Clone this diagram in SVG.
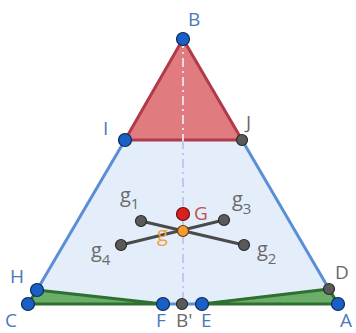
<svg xmlns="http://www.w3.org/2000/svg" width="356" height="333" viewBox="0 0 356 333">
<style>
.bp{fill:#1a5fc4;stroke:#0d2a5a;stroke-width:1.2}
.gp{fill:#5a5a5a;stroke:#2a2a2a;stroke-width:1.2}
.lb{font-family:"Open Sans","Liberation Sans",sans-serif;font-size:19px;fill:#4a7ab8}
.lg{font-family:"Open Sans","Liberation Sans",sans-serif;font-size:19px;fill:#6a6a6a}
.gl{font-family:"Open Sans","Liberation Sans",sans-serif;font-size:20px;fill:#6a6a6a}
.sub{font-size:15px}
</style>
<rect width="356" height="333" fill="#fff"/>
<g id="region">
<polygon points="125,140 242,140 329,289 202,304 163,304 37,290" fill="#e4eefa"/>
</g>
<g id="triangle-BIJ">
<polygon points="183,39 125,140 242,140" fill="#e07c80" stroke="#b03a4a" stroke-width="3" stroke-linejoin="round"/>
</g>
<g id="triangle-CHF">
<polygon points="28,304 37,290 163,304" fill="#6aae6a" stroke="#2e7030" stroke-width="3" stroke-linejoin="round"/>
</g>
<g id="triangle-ADE">
<polygon points="338,304 329,289 202,304" fill="#6aae6a" stroke="#2e7030" stroke-width="3" stroke-linejoin="round"/>
</g>
<g id="connectors">
<line x1="125" y1="140" x2="37" y2="290" stroke="#5a8fd6" stroke-width="3"/>
<line x1="242" y1="140" x2="329" y2="289" stroke="#5a8fd6" stroke-width="3"/>
<line x1="163" y1="304" x2="202" y2="304" stroke="#5a8fd6" stroke-width="3"/>
<line x1="183" y1="39" x2="183" y2="140" stroke="#f4d8e4" stroke-width="2" stroke-dasharray="9,4,2,4"/>
<line x1="183" y1="140" x2="183" y2="304" stroke="#c0c8f0" stroke-width="2" stroke-dasharray="9,4,2,4"/>
<line x1="141" y1="221" x2="244" y2="245" stroke="#4a4a4a" stroke-width="3"/>
<line x1="121" y1="245" x2="224" y2="220" stroke="#4a4a4a" stroke-width="3"/>
</g>
<g id="B"><circle class="bp" cx="183" cy="39" r="6.5"/><text class="lb" x="188" y="26">B</text></g>
<g id="I"><circle class="bp" cx="125" cy="140" r="6.5"/><text class="lb" x="103" y="135">I</text></g>
<g id="J"><circle class="gp" cx="242" cy="140" r="5.5"/><text class="lg" x="246" y="129">J</text></g>
<g id="H"><circle class="bp" cx="37" cy="290" r="6.5"/><text class="lb" x="10" y="283">H</text></g>
<g id="C"><circle class="bp" cx="28" cy="304" r="6.5"/><text class="lb" x="5" y="327">C</text></g>
<g id="F"><circle class="bp" cx="163" cy="304" r="6.5"/><text class="lb" x="156" y="327">F</text></g>
<g id="Bp"><circle class="gp" cx="182" cy="304" r="5.5"/><text class="lg" x="176" y="327">B'</text></g>
<g id="E"><circle class="bp" cx="202" cy="304" r="6.5"/><text class="lb" x="201" y="327">E</text></g>
<g id="D"><circle class="gp" cx="329" cy="289" r="5.5"/><text class="lg" x="335" y="279">D</text></g>
<g id="A"><circle class="bp" cx="338" cy="304" r="6.5"/><text class="lb" x="340" y="327">A</text></g>
<g id="g1"><circle class="gp" cx="141" cy="221" r="5.5"/><text class="gl" x="120" y="202">g<tspan class="sub" dy="7">1</tspan></text></g>
<g id="g3"><circle class="gp" cx="224" cy="220" r="5.5"/><text class="gl" x="232" y="206">g<tspan class="sub" dy="8">3</tspan></text></g>
<g id="g4"><circle class="gp" cx="121" cy="245" r="5.5"/><text class="gl" x="91" y="257">g<tspan class="sub" dy="8">4</tspan></text></g>
<g id="g2"><circle class="gp" cx="244" cy="245" r="5.5"/><text class="gl" x="257" y="256">g<tspan class="sub" dy="8">2</tspan></text></g>
<g id="G"><circle cx="183" cy="214" r="6.5" fill="#d92020" stroke="#6a1010" stroke-width="1.2"/><text x="194" y="220" font-family="Open Sans, Liberation Sans, sans-serif" font-size="19" fill="#c05050">G</text></g>
<g id="g"><circle cx="183" cy="231" r="5.5" fill="#f39c30" stroke="#6a3a10" stroke-width="1.2"/><text x="157" y="241" font-family="Open Sans, Liberation Sans, sans-serif" font-size="20" fill="#f0a040">g</text></g>
</svg>
